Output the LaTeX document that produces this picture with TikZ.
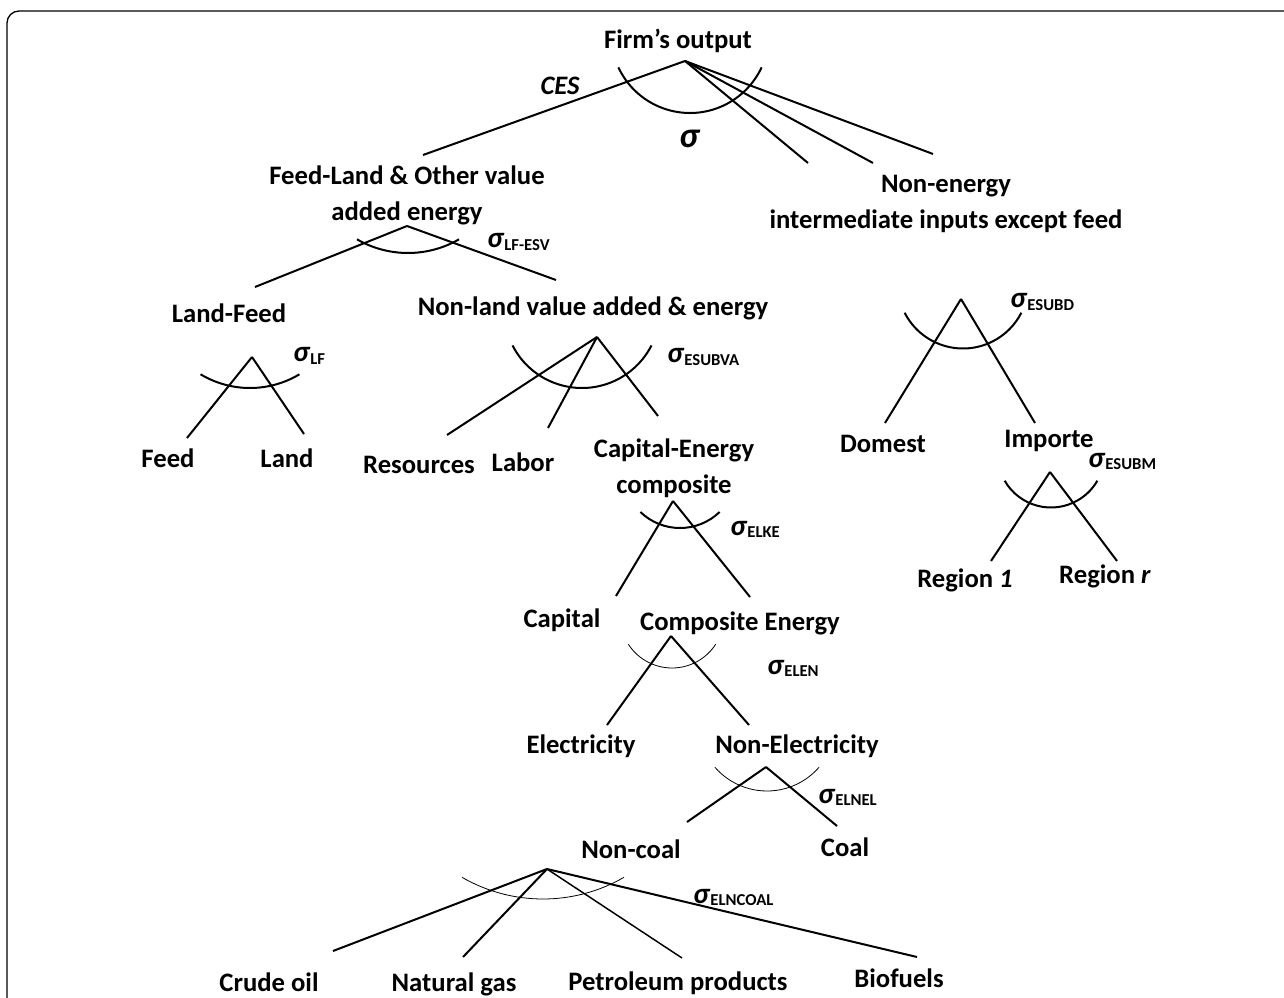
\documentclass[tikz,border=0pt]{standalone}
\usepackage{fontspec}
\setmainfont{Carlito}
\usetikzlibrary{positioning}

\newcommand{\sig}[1]{\textit{σ}\raisebox{-2pt}{\fontsize{12.5}{12.5}\selectfont #1}}

\begin{document}
\begin{tikzpicture}[x=0.75pt,y=0.75pt,
  every node/.style={inner sep=0pt,font=\fontsize{20}{27}\selectfont\bfseries},
  lbl/.style={anchor=base},
  two/.style={anchor=north,align=center},
  sg/.style={anchor=base west,font=\fontsize{22}{22}\selectfont\bfseries},
  tie/.style={line width=1.5pt},
  thin/.style={line width=0.6pt}]
\useasboundingbox (0,0) rectangle (1284,-998);

% frame
\draw[line width=1pt,rounded corners=9pt] (1284,-11) -- (7,-11) -- (7,-998);

% labels
\node[lbl] (firm) at (678,-49) {Firm’s output};
\node[lbl,font=\fontsize{20}{20}\selectfont\bfseries\itshape] (ces) at (560,-95) {CES};
\node[lbl,font=\fontsize{27}{27}\selectfont\bfseries] (sfirm) at (690,-148) {\textit{σ}};
\node[two] (fl) at (407,-166) {Feed-Land \& Other value\\added energy};
\node[two] (nonen) at (946,-175) {Non-energy\\intermediate inputs except feed};
\node[lbl] (lf) at (229,-323) {Land-Feed};
\node[lbl] (nl) at (593,-316) {Non-land value added \& energy};
\node[lbl] (feed) at (168,-467) {Feed};
\node[lbl] (land) at (287,-467) {Land};
\node[lbl] (res) at (419,-473) {Resources};
\node[lbl] (labor) at (523,-471) {Labor};
\node[two] (ce) at (674,-439) {Capital-Energy\\composite};
\node[lbl] (dom) at (883,-452) {Domest};
\node[lbl] (imp) at (1049,-447) {Importe};
\node[lbl] (reg1) at (965,-587) {Region \textit{1}};
\node[lbl] (regr) at (1105,-583) {Region \textit{r}};
\node[lbl] (cap) at (562,-627) {Capital};
\node[lbl] (cen) at (740,-630) {Composite Energy};
\node[lbl] (elec) at (581,-753) {Electricity};
\node[lbl] (nel) at (797,-753) {Non-Electricity};
\node[lbl] (nc) at (631,-858) {Non-coal};
\node[lbl] (coal) at (845,-856) {Coal};
\node[lbl] (crude) at (269,-991) {Crude oil};
\node[lbl] (gas) at (454,-991) {Natural gas};
\node[lbl] (pet) at (678,-990) {Petroleum products};
\node[lbl] (bio) at (899,-987) {Biofuels};

% elasticities
\node[sg] (s1) at (487,-248) {\sig{LF-ESV}};
\node[sg] (s2) at (293,-362) {\sig{LF}};
\node[sg] (s3) at (667,-363) {\sig{ESUBVA}};
\node[sg] (s4) at (730,-535) {\sig{ELKE}};
\node[sg] (s5) at (767,-674) {\sig{ELEN}};
\node[sg] (s6) at (818,-803) {\sig{ELNEL}};
\node[sg] (s7) at (693,-903) {\sig{ELNCOAL}};
\node[sg] (s8) at (1010,-308) {\sig{ESUBD}};
\node[sg] (s9) at (1088,-467) {\sig{ESUBM}};

% apexes and branch ends
\coordinate (firm0) at (685,-61);
\coordinate (firm1) at (423,-155);
\coordinate (firm2) at (808,-163);
\coordinate (firm3) at (873,-163);
\coordinate (firm4) at (933,-154);
\coordinate (fl0) at (407,-226);
\coordinate (fl1) at (255,-287);
\coordinate (fl2) at (556,-280);
\coordinate (lf0) at (252,-357);
\coordinate (lf1) at (187,-438);
\coordinate (lf2) at (304,-434);
\coordinate (nl0) at (597,-337);
\coordinate (nl1) at (447,-435);
\coordinate (nl2) at (548,-428);
\coordinate (nl3) at (658,-416);
\coordinate (ce0) at (673,-501);
\coordinate (ce1) at (616,-596);
\coordinate (ce2) at (750,-597);
\coordinate (cen0) at (671,-636);
\coordinate (cen1) at (607,-725);
\coordinate (cen2) at (749,-725);
\coordinate (nel0) at (766,-767);
\coordinate (nel1) at (687,-822);
\coordinate (nel2) at (837,-826);
\coordinate (nc0) at (547,-869);
\coordinate (nc1) at (333,-951);
\coordinate (nc2) at (463,-957);
\coordinate (nc3) at (682,-958);
\coordinate (nc4) at (917,-957);
\coordinate (dom0) at (961,-299);
\coordinate (dom1) at (885,-423);
\coordinate (dom2) at (1035,-423);
\coordinate (imp0) at (1050,-472);
\coordinate (imp1) at (991,-561);
\coordinate (imp2) at (1117,-561);

\foreach \x/\y in {firm0/firm1,firm0/firm2,firm0/firm3,firm0/firm4,fl0/fl1,fl0/fl2,lf0/lf1,lf0/lf2,nl0/nl1,nl0/nl2,nl0/nl3,ce0/ce1,ce0/ce2,cen0/cen1,cen0/cen2,nel0/nel1,nel0/nel2,nc0/nc1,nc0/nc2,nc0/nc4,dom0/dom1,dom0/dom2,imp0/imp1,imp0/imp2}
	\draw[tie] (\x) -- (\y);
\draw[line width=1.1pt] (nc0) -- (nc3);

% substitution arcs
\foreach \cx/\cy/\r/\h/\w in {690/34/79/65/1.5pt,408/151/102/30/1.5pt,250/292/96/31/1.5pt,582/310/78/63/1.5pt,680/471/57/44/1.5pt,672/616/52/57/0.6pt,767/722/69/49/0.6pt,543/737/162/30/0.6pt,963/283/65.5/63/1.5pt,1051/454/53.5/60/1.5pt}
	\draw[line width=\w] (\cx,-\cy) ++(270-\h:\r) arc[start angle=270-\h,end angle=270+\h,radius=\r];

\end{tikzpicture}
\end{document}
